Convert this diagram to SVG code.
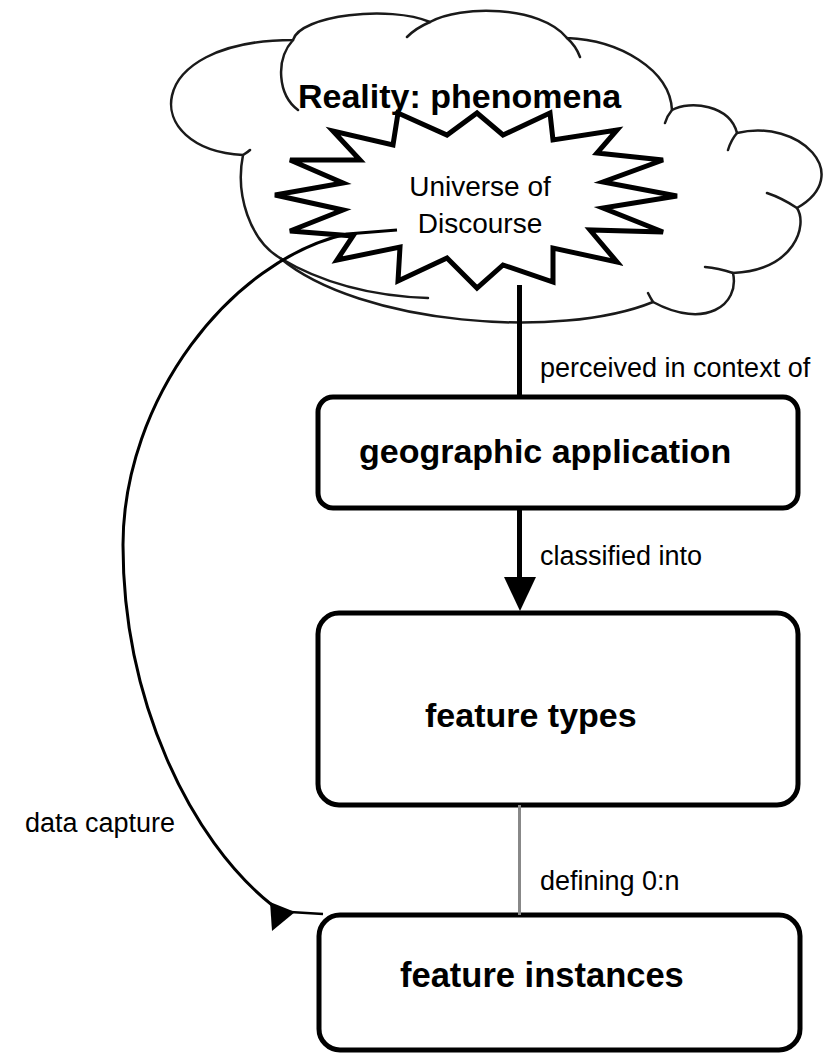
<svg xmlns="http://www.w3.org/2000/svg" width="824" height="1054" viewBox="0 0 824 1054">
<style>
.box{fill:#fff;stroke:#000;stroke-width:5}
.cloud{fill:none;stroke:#1a1a1a;stroke-width:2.5;stroke-linecap:round}
.title{font-family:"Liberation Sans",Arial,sans-serif;font-weight:bold;font-size:34px;fill:#000}
.lbl{font-family:"Liberation Sans",Arial,sans-serif;font-size:27px;fill:#000}
.big{font-family:"Liberation Sans",Arial,sans-serif;font-weight:bold;font-size:34px;fill:#000}
.uod{font-family:"Liberation Sans",Arial,sans-serif;font-size:28px;fill:#000;text-anchor:middle}
</style>
<rect width="824" height="1054" fill="#fff"/>
<g id="reality">
<path d="M243,155 C140,150 140,40 293,40 C300,15 390,5 430,22 C460,5 540,5 567,38 C620,40 670,70 672,110 C690,100 730,105 737,133 C800,118 855,175 797,208 C808,225 795,270 733,273 C740,305 705,330 653,302 C560,340 360,325 280,258 C250,240 235,195 243,155 Z" fill="#fff" stroke="none"/>
<path class="cloud" d="M243,155 C140,150 140,40 293,40 C300,15 390,5 430,22 C460,5 540,5 567,38 C620,40 670,70 672,110 C690,100 730,105 737,133 C800,118 855,175 797,208 C808,225 795,270 733,273 C740,305 705,330 653,302 C560,340 360,325 280,258 C250,240 235,195 243,155"/>
<path class="cloud" d="M293,40 C275,60 278,95 298,110 M430,22 Q416,28 407,37 M567,38 Q576,46 580,57 M672,110 Q667,116 665,123 M737,133 Q731,140 728,150 M797,208 Q782,198 767,193 M733,273 Q718,268 705,267 M653,302 Q650,297 648,293 M280,258 C320,282 370,296 428,298 M243,155 Q248,152 250,150"/>
<text class="big" x="298" y="108">Reality: phenomena</text>
</g>
<g id="universe">
<polygon points="477,113 503,135 550,113 553,140 617,130 597,153 663,160 603,182 677,196 603,208 663,232 590,230 617,262 553,248 553,282 503,265 477,288 447,258 398,281 400,247 337,260 353,236 290,231 343,210 275,195 343,183 290,160 360,160 333,131 393,145 398,113 447,135" fill="#fff" stroke="#000" stroke-width="5" stroke-linejoin="miter"/>
<text class="uod" x="480" y="196">Universe of</text>
<text class="uod" x="480" y="233">Discourse</text>
</g>
<g id="geographic-application">
<rect class="box" x="318" y="397" width="480" height="111" rx="15"/>
<text class="title" x="359" y="463">geographic application</text>
</g>
<g id="feature-types">
<rect class="box" x="318" y="613" width="480" height="192" rx="21"/>
<text class="title" x="425" y="727">feature types</text>
</g>
<g id="feature-instances">
<rect class="box" x="319" y="915" width="481" height="135" rx="21"/>
<text class="title" x="400" y="987" style="font-size:34.5px">feature instances</text>
</g>
<g id="connectors">
<line x1="519.5" y1="285" x2="519.5" y2="397" stroke="#000" stroke-width="5"/>
<text class="lbl" x="540" y="377">perceived in context of</text>
<line x1="519.5" y1="508" x2="519.5" y2="585" stroke="#000" stroke-width="5"/>
<polygon points="504,577 536,577 520,611" fill="#000"/>
<text class="lbl" x="540" y="565">classified into</text>
<line x1="519.5" y1="805" x2="519.5" y2="915" stroke="#888" stroke-width="3"/>
<text class="lbl" x="540" y="890">defining 0:n</text>
<path d="M397,230 L347,234 C230,260 123,400 123,545 C123,700 190,840 272,905" fill="none" stroke="#000" stroke-width="3"/>
<line x1="290" y1="912" x2="323" y2="914" stroke="#000" stroke-width="2.5"/>
<polygon points="270,902 272,931 295,912" fill="#000"/>
<text class="lbl" x="25" y="832">data capture</text>
</g>
</svg>
